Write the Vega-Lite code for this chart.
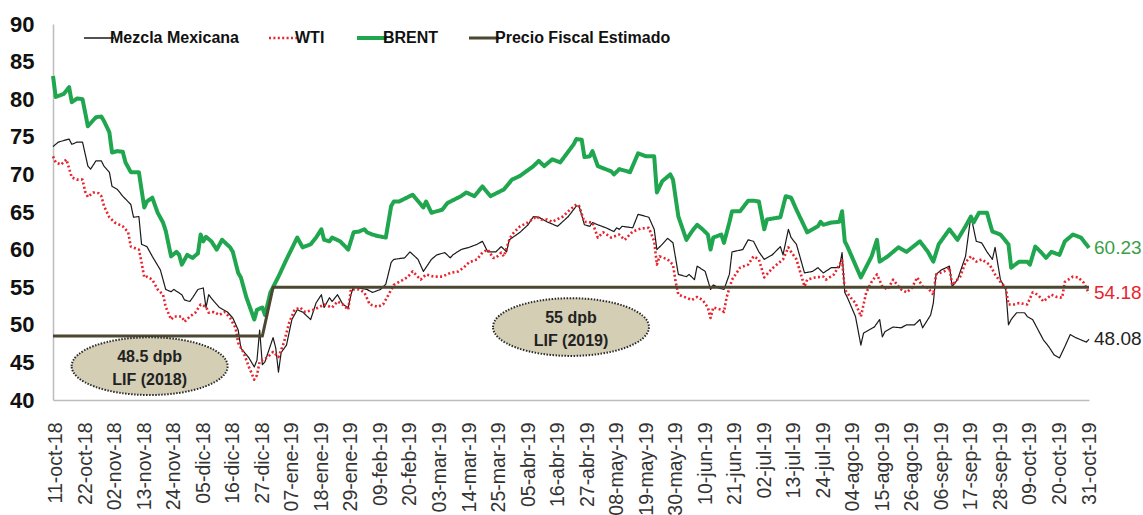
{
  "$schema": "https://vega.github.io/schema/vega-lite/v6.json",
  "width": 1036,
  "height": 376,
  "autosize": {"type": "none"},
  "padding": {"left": 53, "top": 24, "right": 54, "bottom": 115},
  "background": "white",
  "config": {
    "view": {"stroke": null},
    "font": "Liberation Sans",
    "axis": {"grid": false, "title": null, "labelOverlap": false, "labelSeparation": 0}
  },
  "layer": [
    {
      "data": {
        "format": {"parse": {"d": "date:'%Y-%m-%d'"}},
        "values": [
          {"s":"Mezcla Mexicana","d":"2018-10-10","v":73.7},{"s":"Mezcla Mexicana","d":"2018-10-12","v":74.3},{"s":"Mezcla Mexicana","d":"2018-10-16","v":74.7},{"s":"Mezcla Mexicana","d":"2018-10-17","v":74.0},{"s":"Mezcla Mexicana","d":"2018-10-19","v":74.3},{"s":"Mezcla Mexicana","d":"2018-10-21","v":74.3},{"s":"Mezcla Mexicana","d":"2018-10-23","v":71.1},{"s":"Mezcla Mexicana","d":"2018-10-24","v":70.7},{"s":"Mezcla Mexicana","d":"2018-10-26","v":71.8},{"s":"Mezcla Mexicana","d":"2018-10-28","v":71.8},{"s":"Mezcla Mexicana","d":"2018-10-29","v":71.1},{"s":"Mezcla Mexicana","d":"2018-10-31","v":70.3},{"s":"Mezcla Mexicana","d":"2018-11-01","v":68.4},{"s":"Mezcla Mexicana","d":"2018-11-03","v":68.0},{"s":"Mezcla Mexicana","d":"2018-11-05","v":67.1},{"s":"Mezcla Mexicana","d":"2018-11-08","v":66.0},{"s":"Mezcla Mexicana","d":"2018-11-09","v":64.3},{"s":"Mezcla Mexicana","d":"2018-11-11","v":64.4},{"s":"Mezcla Mexicana","d":"2018-11-12","v":60.7},{"s":"Mezcla Mexicana","d":"2018-11-14","v":60.4},{"s":"Mezcla Mexicana","d":"2018-11-16","v":59.1},{"s":"Mezcla Mexicana","d":"2018-11-19","v":57.3},{"s":"Mezcla Mexicana","d":"2018-11-20","v":56.0},{"s":"Mezcla Mexicana","d":"2018-11-21","v":54.7},{"s":"Mezcla Mexicana","d":"2018-11-23","v":54.4},{"s":"Mezcla Mexicana","d":"2018-11-24","v":54.7},{"s":"Mezcla Mexicana","d":"2018-11-27","v":54.0},{"s":"Mezcla Mexicana","d":"2018-11-28","v":53.3},{"s":"Mezcla Mexicana","d":"2018-11-30","v":53.1},{"s":"Mezcla Mexicana","d":"2018-12-01","v":53.6},{"s":"Mezcla Mexicana","d":"2018-12-03","v":54.7},{"s":"Mezcla Mexicana","d":"2018-12-05","v":54.9},{"s":"Mezcla Mexicana","d":"2018-12-06","v":52.3},{"s":"Mezcla Mexicana","d":"2018-12-07","v":54.0},{"s":"Mezcla Mexicana","d":"2018-12-09","v":53.1},{"s":"Mezcla Mexicana","d":"2018-12-11","v":52.3},{"s":"Mezcla Mexicana","d":"2018-12-14","v":51.7},{"s":"Mezcla Mexicana","d":"2018-12-16","v":50.9},{"s":"Mezcla Mexicana","d":"2018-12-18","v":49.3},{"s":"Mezcla Mexicana","d":"2018-12-19","v":46.9},{"s":"Mezcla Mexicana","d":"2018-12-22","v":45.6},{"s":"Mezcla Mexicana","d":"2018-12-24","v":44.4},{"s":"Mezcla Mexicana","d":"2018-12-25","v":45.3},{"s":"Mezcla Mexicana","d":"2018-12-26","v":49.3},{"s":"Mezcla Mexicana","d":"2018-12-27","v":44.7},{"s":"Mezcla Mexicana","d":"2018-12-28","v":45.1},{"s":"Mezcla Mexicana","d":"2018-12-31","v":48.3},{"s":"Mezcla Mexicana","d":"2019-01-01","v":46.9},{"s":"Mezcla Mexicana","d":"2019-01-02","v":43.7},{"s":"Mezcla Mexicana","d":"2019-01-03","v":46.3},{"s":"Mezcla Mexicana","d":"2019-01-05","v":47.3},{"s":"Mezcla Mexicana","d":"2019-01-07","v":50.7},{"s":"Mezcla Mexicana","d":"2019-01-09","v":52.0},{"s":"Mezcla Mexicana","d":"2019-01-11","v":51.7},{"s":"Mezcla Mexicana","d":"2019-01-14","v":50.7},{"s":"Mezcla Mexicana","d":"2019-01-16","v":52.9},{"s":"Mezcla Mexicana","d":"2019-01-18","v":54.0},{"s":"Mezcla Mexicana","d":"2019-01-19","v":52.3},{"s":"Mezcla Mexicana","d":"2019-01-21","v":53.6},{"s":"Mezcla Mexicana","d":"2019-01-22","v":53.1},{"s":"Mezcla Mexicana","d":"2019-01-24","v":54.0},{"s":"Mezcla Mexicana","d":"2019-01-26","v":52.7},{"s":"Mezcla Mexicana","d":"2019-01-28","v":52.3},{"s":"Mezcla Mexicana","d":"2019-01-29","v":54.0},{"s":"Mezcla Mexicana","d":"2019-01-30","v":55.1},{"s":"Mezcla Mexicana","d":"2019-02-01","v":54.9},{"s":"Mezcla Mexicana","d":"2019-02-04","v":54.7},{"s":"Mezcla Mexicana","d":"2019-02-06","v":54.3},{"s":"Mezcla Mexicana","d":"2019-02-09","v":54.7},{"s":"Mezcla Mexicana","d":"2019-02-11","v":55.4},{"s":"Mezcla Mexicana","d":"2019-02-13","v":58.3},{"s":"Mezcla Mexicana","d":"2019-02-14","v":58.7},{"s":"Mezcla Mexicana","d":"2019-02-18","v":58.9},{"s":"Mezcla Mexicana","d":"2019-02-20","v":59.7},{"s":"Mezcla Mexicana","d":"2019-02-23","v":58.7},{"s":"Mezcla Mexicana","d":"2019-02-25","v":57.1},{"s":"Mezcla Mexicana","d":"2019-02-28","v":58.7},{"s":"Mezcla Mexicana","d":"2019-03-02","v":59.3},{"s":"Mezcla Mexicana","d":"2019-03-05","v":59.6},{"s":"Mezcla Mexicana","d":"2019-03-07","v":58.9},{"s":"Mezcla Mexicana","d":"2019-03-08","v":59.3},{"s":"Mezcla Mexicana","d":"2019-03-11","v":60.0},{"s":"Mezcla Mexicana","d":"2019-03-14","v":60.3},{"s":"Mezcla Mexicana","d":"2019-03-17","v":60.7},{"s":"Mezcla Mexicana","d":"2019-03-19","v":61.1},{"s":"Mezcla Mexicana","d":"2019-03-21","v":59.7},{"s":"Mezcla Mexicana","d":"2019-03-24","v":59.7},{"s":"Mezcla Mexicana","d":"2019-03-26","v":60.4},{"s":"Mezcla Mexicana","d":"2019-03-28","v":59.7},{"s":"Mezcla Mexicana","d":"2019-03-29","v":61.3},{"s":"Mezcla Mexicana","d":"2019-04-02","v":62.3},{"s":"Mezcla Mexicana","d":"2019-04-05","v":63.3},{"s":"Mezcla Mexicana","d":"2019-04-07","v":64.4},{"s":"Mezcla Mexicana","d":"2019-04-09","v":64.3},{"s":"Mezcla Mexicana","d":"2019-04-12","v":63.7},{"s":"Mezcla Mexicana","d":"2019-04-16","v":63.1},{"s":"Mezcla Mexicana","d":"2019-04-20","v":64.4},{"s":"Mezcla Mexicana","d":"2019-04-23","v":65.8},{"s":"Mezcla Mexicana","d":"2019-04-24","v":65.8},{"s":"Mezcla Mexicana","d":"2019-04-26","v":63.3},{"s":"Mezcla Mexicana","d":"2019-04-28","v":63.1},{"s":"Mezcla Mexicana","d":"2019-04-29","v":63.6},{"s":"Mezcla Mexicana","d":"2019-05-01","v":63.3},{"s":"Mezcla Mexicana","d":"2019-05-04","v":62.9},{"s":"Mezcla Mexicana","d":"2019-05-07","v":62.4},{"s":"Mezcla Mexicana","d":"2019-05-08","v":62.9},{"s":"Mezcla Mexicana","d":"2019-05-09","v":62.7},{"s":"Mezcla Mexicana","d":"2019-05-10","v":63.1},{"s":"Mezcla Mexicana","d":"2019-05-14","v":62.9},{"s":"Mezcla Mexicana","d":"2019-05-16","v":64.7},{"s":"Mezcla Mexicana","d":"2019-05-20","v":64.3},{"s":"Mezcla Mexicana","d":"2019-05-22","v":62.7},{"s":"Mezcla Mexicana","d":"2019-05-23","v":60.0},{"s":"Mezcla Mexicana","d":"2019-05-25","v":60.7},{"s":"Mezcla Mexicana","d":"2019-05-27","v":61.5},{"s":"Mezcla Mexicana","d":"2019-05-29","v":60.9},{"s":"Mezcla Mexicana","d":"2019-05-31","v":56.7},{"s":"Mezcla Mexicana","d":"2019-06-03","v":56.4},{"s":"Mezcla Mexicana","d":"2019-06-04","v":56.7},{"s":"Mezcla Mexicana","d":"2019-06-06","v":56.0},{"s":"Mezcla Mexicana","d":"2019-06-07","v":57.8},{"s":"Mezcla Mexicana","d":"2019-06-10","v":57.1},{"s":"Mezcla Mexicana","d":"2019-06-12","v":54.7},{"s":"Mezcla Mexicana","d":"2019-06-13","v":55.3},{"s":"Mezcla Mexicana","d":"2019-06-15","v":54.9},{"s":"Mezcla Mexicana","d":"2019-06-17","v":54.7},{"s":"Mezcla Mexicana","d":"2019-06-19","v":56.7},{"s":"Mezcla Mexicana","d":"2019-06-20","v":59.7},{"s":"Mezcla Mexicana","d":"2019-06-24","v":60.0},{"s":"Mezcla Mexicana","d":"2019-06-26","v":61.3},{"s":"Mezcla Mexicana","d":"2019-06-28","v":61.1},{"s":"Mezcla Mexicana","d":"2019-06-30","v":59.7},{"s":"Mezcla Mexicana","d":"2019-07-02","v":58.7},{"s":"Mezcla Mexicana","d":"2019-07-05","v":59.3},{"s":"Mezcla Mexicana","d":"2019-07-08","v":60.4},{"s":"Mezcla Mexicana","d":"2019-07-09","v":59.3},{"s":"Mezcla Mexicana","d":"2019-07-11","v":62.7},{"s":"Mezcla Mexicana","d":"2019-07-12","v":61.6},{"s":"Mezcla Mexicana","d":"2019-07-14","v":60.7},{"s":"Mezcla Mexicana","d":"2019-07-17","v":56.9},{"s":"Mezcla Mexicana","d":"2019-07-20","v":57.1},{"s":"Mezcla Mexicana","d":"2019-07-22","v":57.6},{"s":"Mezcla Mexicana","d":"2019-07-24","v":56.9},{"s":"Mezcla Mexicana","d":"2019-07-27","v":57.6},{"s":"Mezcla Mexicana","d":"2019-07-30","v":57.6},{"s":"Mezcla Mexicana","d":"2019-07-31","v":59.6},{"s":"Mezcla Mexicana","d":"2019-08-01","v":54.3},{"s":"Mezcla Mexicana","d":"2019-08-02","v":53.6},{"s":"Mezcla Mexicana","d":"2019-08-05","v":51.1},{"s":"Mezcla Mexicana","d":"2019-08-07","v":47.3},{"s":"Mezcla Mexicana","d":"2019-08-08","v":48.9},{"s":"Mezcla Mexicana","d":"2019-08-12","v":49.7},{"s":"Mezcla Mexicana","d":"2019-08-14","v":50.7},{"s":"Mezcla Mexicana","d":"2019-08-15","v":48.4},{"s":"Mezcla Mexicana","d":"2019-08-16","v":49.1},{"s":"Mezcla Mexicana","d":"2019-08-19","v":49.7},{"s":"Mezcla Mexicana","d":"2019-08-22","v":49.6},{"s":"Mezcla Mexicana","d":"2019-08-24","v":50.0},{"s":"Mezcla Mexicana","d":"2019-08-27","v":50.0},{"s":"Mezcla Mexicana","d":"2019-08-29","v":50.7},{"s":"Mezcla Mexicana","d":"2019-08-30","v":49.6},{"s":"Mezcla Mexicana","d":"2019-09-02","v":51.3},{"s":"Mezcla Mexicana","d":"2019-09-03","v":52.9},{"s":"Mezcla Mexicana","d":"2019-09-04","v":56.7},{"s":"Mezcla Mexicana","d":"2019-09-06","v":57.3},{"s":"Mezcla Mexicana","d":"2019-09-09","v":57.8},{"s":"Mezcla Mexicana","d":"2019-09-10","v":55.1},{"s":"Mezcla Mexicana","d":"2019-09-12","v":56.0},{"s":"Mezcla Mexicana","d":"2019-09-15","v":59.1},{"s":"Mezcla Mexicana","d":"2019-09-16","v":61.8},{"s":"Mezcla Mexicana","d":"2019-09-17","v":64.5},{"s":"Mezcla Mexicana","d":"2019-09-19","v":61.1},{"s":"Mezcla Mexicana","d":"2019-09-21","v":60.9},{"s":"Mezcla Mexicana","d":"2019-09-23","v":59.7},{"s":"Mezcla Mexicana","d":"2019-09-25","v":58.7},{"s":"Mezcla Mexicana","d":"2019-09-26","v":60.3},{"s":"Mezcla Mexicana","d":"2019-09-28","v":56.0},{"s":"Mezcla Mexicana","d":"2019-09-30","v":54.7},{"s":"Mezcla Mexicana","d":"2019-10-01","v":50.0},{"s":"Mezcla Mexicana","d":"2019-10-02","v":50.7},{"s":"Mezcla Mexicana","d":"2019-10-04","v":51.6},{"s":"Mezcla Mexicana","d":"2019-10-07","v":51.6},{"s":"Mezcla Mexicana","d":"2019-10-08","v":51.1},{"s":"Mezcla Mexicana","d":"2019-10-10","v":50.7},{"s":"Mezcla Mexicana","d":"2019-10-14","v":48.0},{"s":"Mezcla Mexicana","d":"2019-10-16","v":47.1},{"s":"Mezcla Mexicana","d":"2019-10-18","v":46.0},{"s":"Mezcla Mexicana","d":"2019-10-20","v":45.6},{"s":"Mezcla Mexicana","d":"2019-10-22","v":47.1},{"s":"Mezcla Mexicana","d":"2019-10-24","v":48.7},{"s":"Mezcla Mexicana","d":"2019-10-26","v":48.3},{"s":"Mezcla Mexicana","d":"2019-10-28","v":48.0},{"s":"Mezcla Mexicana","d":"2019-10-30","v":47.7},{"s":"Mezcla Mexicana","d":"2019-10-31","v":48.08},
          {"s":"WTI","d":"2018-10-10","v":72.4},{"s":"WTI","d":"2018-10-11","v":71.6},{"s":"WTI","d":"2018-10-13","v":71.3},{"s":"WTI","d":"2018-10-15","v":72.0},{"s":"WTI","d":"2018-10-17","v":69.6},{"s":"WTI","d":"2018-10-19","v":69.3},{"s":"WTI","d":"2018-10-21","v":69.3},{"s":"WTI","d":"2018-10-22","v":67.7},{"s":"WTI","d":"2018-10-23","v":67.0},{"s":"WTI","d":"2018-10-25","v":67.6},{"s":"WTI","d":"2018-10-27","v":67.5},{"s":"WTI","d":"2018-10-28","v":67.1},{"s":"WTI","d":"2018-10-29","v":65.8},{"s":"WTI","d":"2018-10-31","v":64.3},{"s":"WTI","d":"2018-11-02","v":63.6},{"s":"WTI","d":"2018-11-05","v":63.1},{"s":"WTI","d":"2018-11-07","v":62.3},{"s":"WTI","d":"2018-11-08","v":60.4},{"s":"WTI","d":"2018-11-11","v":60.0},{"s":"WTI","d":"2018-11-12","v":58.3},{"s":"WTI","d":"2018-11-13","v":56.3},{"s":"WTI","d":"2018-11-14","v":56.4},{"s":"WTI","d":"2018-11-16","v":56.0},{"s":"WTI","d":"2018-11-18","v":54.7},{"s":"WTI","d":"2018-11-20","v":54.0},{"s":"WTI","d":"2018-11-21","v":52.4},{"s":"WTI","d":"2018-11-23","v":50.7},{"s":"WTI","d":"2018-11-24","v":51.1},{"s":"WTI","d":"2018-11-27","v":51.1},{"s":"WTI","d":"2018-11-28","v":50.4},{"s":"WTI","d":"2018-11-30","v":51.1},{"s":"WTI","d":"2018-12-02","v":51.6},{"s":"WTI","d":"2018-12-04","v":52.7},{"s":"WTI","d":"2018-12-06","v":52.4},{"s":"WTI","d":"2018-12-07","v":51.6},{"s":"WTI","d":"2018-12-09","v":51.7},{"s":"WTI","d":"2018-12-11","v":51.3},{"s":"WTI","d":"2018-12-13","v":51.7},{"s":"WTI","d":"2018-12-15","v":50.9},{"s":"WTI","d":"2018-12-17","v":49.6},{"s":"WTI","d":"2018-12-18","v":47.6},{"s":"WTI","d":"2018-12-20","v":46.3},{"s":"WTI","d":"2018-12-22","v":44.4},{"s":"WTI","d":"2018-12-24","v":42.7},{"s":"WTI","d":"2018-12-25","v":43.3},{"s":"WTI","d":"2018-12-26","v":45.1},{"s":"WTI","d":"2018-12-29","v":45.7},{"s":"WTI","d":"2018-12-31","v":46.4},{"s":"WTI","d":"2019-01-02","v":45.7},{"s":"WTI","d":"2019-01-04","v":47.6},{"s":"WTI","d":"2019-01-06","v":50.3},{"s":"WTI","d":"2019-01-08","v":52.0},{"s":"WTI","d":"2019-01-10","v":52.3},{"s":"WTI","d":"2019-01-12","v":51.7},{"s":"WTI","d":"2019-01-15","v":52.0},{"s":"WTI","d":"2019-01-17","v":52.3},{"s":"WTI","d":"2019-01-19","v":52.7},{"s":"WTI","d":"2019-01-22","v":52.3},{"s":"WTI","d":"2019-01-24","v":53.1},{"s":"WTI","d":"2019-01-26","v":52.7},{"s":"WTI","d":"2019-01-28","v":52.0},{"s":"WTI","d":"2019-01-29","v":54.7},{"s":"WTI","d":"2019-02-01","v":54.7},{"s":"WTI","d":"2019-02-03","v":54.3},{"s":"WTI","d":"2019-02-05","v":52.7},{"s":"WTI","d":"2019-02-08","v":52.4},{"s":"WTI","d":"2019-02-10","v":52.7},{"s":"WTI","d":"2019-02-12","v":54.0},{"s":"WTI","d":"2019-02-14","v":55.3},{"s":"WTI","d":"2019-02-16","v":55.7},{"s":"WTI","d":"2019-02-19","v":56.3},{"s":"WTI","d":"2019-02-21","v":57.1},{"s":"WTI","d":"2019-02-24","v":56.0},{"s":"WTI","d":"2019-02-26","v":56.7},{"s":"WTI","d":"2019-03-01","v":56.4},{"s":"WTI","d":"2019-03-04","v":56.4},{"s":"WTI","d":"2019-03-07","v":56.9},{"s":"WTI","d":"2019-03-10","v":57.1},{"s":"WTI","d":"2019-03-12","v":57.6},{"s":"WTI","d":"2019-03-14","v":58.3},{"s":"WTI","d":"2019-03-17","v":58.7},{"s":"WTI","d":"2019-03-19","v":59.6},{"s":"WTI","d":"2019-03-21","v":60.0},{"s":"WTI","d":"2019-03-23","v":58.9},{"s":"WTI","d":"2019-03-24","v":58.9},{"s":"WTI","d":"2019-03-26","v":59.6},{"s":"WTI","d":"2019-03-27","v":59.1},{"s":"WTI","d":"2019-03-29","v":61.3},{"s":"WTI","d":"2019-03-30","v":62.0},{"s":"WTI","d":"2019-04-02","v":63.1},{"s":"WTI","d":"2019-04-05","v":63.6},{"s":"WTI","d":"2019-04-08","v":64.4},{"s":"WTI","d":"2019-04-10","v":64.0},{"s":"WTI","d":"2019-04-12","v":64.0},{"s":"WTI","d":"2019-04-14","v":63.7},{"s":"WTI","d":"2019-04-18","v":64.4},{"s":"WTI","d":"2019-04-20","v":65.1},{"s":"WTI","d":"2019-04-23","v":66.0},{"s":"WTI","d":"2019-04-24","v":65.8},{"s":"WTI","d":"2019-04-26","v":63.7},{"s":"WTI","d":"2019-04-29","v":63.6},{"s":"WTI","d":"2019-05-01","v":61.6},{"s":"WTI","d":"2019-05-03","v":62.3},{"s":"WTI","d":"2019-05-06","v":61.6},{"s":"WTI","d":"2019-05-09","v":62.0},{"s":"WTI","d":"2019-05-11","v":61.3},{"s":"WTI","d":"2019-05-14","v":62.4},{"s":"WTI","d":"2019-05-17","v":62.8},{"s":"WTI","d":"2019-05-20","v":62.9},{"s":"WTI","d":"2019-05-22","v":61.1},{"s":"WTI","d":"2019-05-23","v":58.0},{"s":"WTI","d":"2019-05-24","v":59.1},{"s":"WTI","d":"2019-05-27","v":58.7},{"s":"WTI","d":"2019-05-29","v":58.0},{"s":"WTI","d":"2019-05-30","v":55.7},{"s":"WTI","d":"2019-05-31","v":54.0},{"s":"WTI","d":"2019-06-03","v":53.6},{"s":"WTI","d":"2019-06-05","v":53.3},{"s":"WTI","d":"2019-06-07","v":53.7},{"s":"WTI","d":"2019-06-09","v":53.3},{"s":"WTI","d":"2019-06-11","v":52.3},{"s":"WTI","d":"2019-06-12","v":50.9},{"s":"WTI","d":"2019-06-13","v":52.3},{"s":"WTI","d":"2019-06-16","v":52.0},{"s":"WTI","d":"2019-06-17","v":51.7},{"s":"WTI","d":"2019-06-18","v":53.7},{"s":"WTI","d":"2019-06-20","v":56.0},{"s":"WTI","d":"2019-06-23","v":57.6},{"s":"WTI","d":"2019-06-26","v":58.0},{"s":"WTI","d":"2019-06-28","v":59.1},{"s":"WTI","d":"2019-06-30","v":58.7},{"s":"WTI","d":"2019-07-02","v":56.3},{"s":"WTI","d":"2019-07-05","v":57.5},{"s":"WTI","d":"2019-07-09","v":58.7},{"s":"WTI","d":"2019-07-11","v":60.3},{"s":"WTI","d":"2019-07-12","v":59.7},{"s":"WTI","d":"2019-07-14","v":58.7},{"s":"WTI","d":"2019-07-17","v":55.1},{"s":"WTI","d":"2019-07-18","v":56.0},{"s":"WTI","d":"2019-07-21","v":56.3},{"s":"WTI","d":"2019-07-24","v":56.4},{"s":"WTI","d":"2019-07-25","v":56.0},{"s":"WTI","d":"2019-07-28","v":56.7},{"s":"WTI","d":"2019-07-31","v":58.6},{"s":"WTI","d":"2019-08-01","v":54.7},{"s":"WTI","d":"2019-08-03","v":53.7},{"s":"WTI","d":"2019-08-05","v":52.9},{"s":"WTI","d":"2019-08-07","v":51.1},{"s":"WTI","d":"2019-08-09","v":54.3},{"s":"WTI","d":"2019-08-11","v":55.7},{"s":"WTI","d":"2019-08-13","v":56.7},{"s":"WTI","d":"2019-08-15","v":55.1},{"s":"WTI","d":"2019-08-17","v":54.7},{"s":"WTI","d":"2019-08-19","v":56.0},{"s":"WTI","d":"2019-08-22","v":54.7},{"s":"WTI","d":"2019-08-24","v":54.3},{"s":"WTI","d":"2019-08-26","v":54.9},{"s":"WTI","d":"2019-08-28","v":56.3},{"s":"WTI","d":"2019-08-30","v":55.1},{"s":"WTI","d":"2019-09-01","v":54.9},{"s":"WTI","d":"2019-09-03","v":54.0},{"s":"WTI","d":"2019-09-04","v":56.7},{"s":"WTI","d":"2019-09-07","v":57.1},{"s":"WTI","d":"2019-09-09","v":57.6},{"s":"WTI","d":"2019-09-10","v":55.3},{"s":"WTI","d":"2019-09-13","v":56.4},{"s":"WTI","d":"2019-09-15","v":58.3},{"s":"WTI","d":"2019-09-17","v":59.1},{"s":"WTI","d":"2019-09-19","v":58.4},{"s":"WTI","d":"2019-09-21","v":58.7},{"s":"WTI","d":"2019-09-24","v":58.0},{"s":"WTI","d":"2019-09-26","v":56.7},{"s":"WTI","d":"2019-09-28","v":55.7},{"s":"WTI","d":"2019-09-30","v":54.9},{"s":"WTI","d":"2019-10-01","v":52.7},{"s":"WTI","d":"2019-10-03","v":52.7},{"s":"WTI","d":"2019-10-05","v":52.9},{"s":"WTI","d":"2019-10-08","v":52.7},{"s":"WTI","d":"2019-10-10","v":54.3},{"s":"WTI","d":"2019-10-12","v":54.0},{"s":"WTI","d":"2019-10-14","v":53.1},{"s":"WTI","d":"2019-10-17","v":54.0},{"s":"WTI","d":"2019-10-19","v":53.7},{"s":"WTI","d":"2019-10-21","v":53.6},{"s":"WTI","d":"2019-10-22","v":55.7},{"s":"WTI","d":"2019-10-25","v":56.4},{"s":"WTI","d":"2019-10-27","v":56.3},{"s":"WTI","d":"2019-10-29","v":55.6},{"s":"WTI","d":"2019-10-31","v":54.18},
          {"s":"BRENT","d":"2018-10-10","v":83.1},{"s":"BRENT","d":"2018-10-11","v":80.3},{"s":"BRENT","d":"2018-10-14","v":80.7},{"s":"BRENT","d":"2018-10-16","v":81.6},{"s":"BRENT","d":"2018-10-17","v":79.6},{"s":"BRENT","d":"2018-10-19","v":80.1},{"s":"BRENT","d":"2018-10-21","v":80.0},{"s":"BRENT","d":"2018-10-23","v":76.4},{"s":"BRENT","d":"2018-10-26","v":77.6},{"s":"BRENT","d":"2018-10-28","v":77.7},{"s":"BRENT","d":"2018-10-29","v":77.1},{"s":"BRENT","d":"2018-10-31","v":75.6},{"s":"BRENT","d":"2018-11-01","v":72.9},{"s":"BRENT","d":"2018-11-03","v":73.1},{"s":"BRENT","d":"2018-11-05","v":73.0},{"s":"BRENT","d":"2018-11-06","v":71.6},{"s":"BRENT","d":"2018-11-08","v":70.3},{"s":"BRENT","d":"2018-11-11","v":70.3},{"s":"BRENT","d":"2018-11-13","v":65.6},{"s":"BRENT","d":"2018-11-14","v":66.4},{"s":"BRENT","d":"2018-11-16","v":66.9},{"s":"BRENT","d":"2018-11-18","v":64.9},{"s":"BRENT","d":"2018-11-20","v":63.6},{"s":"BRENT","d":"2018-11-21","v":62.5},{"s":"BRENT","d":"2018-11-23","v":59.1},{"s":"BRENT","d":"2018-11-25","v":59.7},{"s":"BRENT","d":"2018-11-26","v":59.3},{"s":"BRENT","d":"2018-11-27","v":58.0},{"s":"BRENT","d":"2018-11-29","v":59.3},{"s":"BRENT","d":"2018-12-01","v":58.9},{"s":"BRENT","d":"2018-12-03","v":59.5},{"s":"BRENT","d":"2018-12-04","v":62.0},{"s":"BRENT","d":"2018-12-05","v":61.1},{"s":"BRENT","d":"2018-12-06","v":61.7},{"s":"BRENT","d":"2018-12-08","v":61.1},{"s":"BRENT","d":"2018-12-10","v":60.0},{"s":"BRENT","d":"2018-12-12","v":61.3},{"s":"BRENT","d":"2018-12-15","v":60.3},{"s":"BRENT","d":"2018-12-16","v":59.7},{"s":"BRENT","d":"2018-12-18","v":56.9},{"s":"BRENT","d":"2018-12-19","v":56.3},{"s":"BRENT","d":"2018-12-21","v":53.7},{"s":"BRENT","d":"2018-12-24","v":50.7},{"s":"BRENT","d":"2018-12-25","v":52.0},{"s":"BRENT","d":"2018-12-27","v":52.3},{"s":"BRENT","d":"2018-12-28","v":51.3},{"s":"BRENT","d":"2018-12-30","v":54.3},{"s":"BRENT","d":"2019-01-02","v":56.4},{"s":"BRENT","d":"2019-01-05","v":58.7},{"s":"BRENT","d":"2019-01-09","v":61.6},{"s":"BRENT","d":"2019-01-11","v":60.3},{"s":"BRENT","d":"2019-01-14","v":60.7},{"s":"BRENT","d":"2019-01-16","v":61.6},{"s":"BRENT","d":"2019-01-18","v":62.7},{"s":"BRENT","d":"2019-01-19","v":61.3},{"s":"BRENT","d":"2019-01-21","v":61.1},{"s":"BRENT","d":"2019-01-22","v":61.6},{"s":"BRENT","d":"2019-01-25","v":61.1},{"s":"BRENT","d":"2019-01-28","v":60.0},{"s":"BRENT","d":"2019-01-30","v":62.3},{"s":"BRENT","d":"2019-02-01","v":62.4},{"s":"BRENT","d":"2019-02-03","v":62.7},{"s":"BRENT","d":"2019-02-04","v":62.3},{"s":"BRENT","d":"2019-02-06","v":62.0},{"s":"BRENT","d":"2019-02-08","v":61.8},{"s":"BRENT","d":"2019-02-11","v":61.6},{"s":"BRENT","d":"2019-02-13","v":65.8},{"s":"BRENT","d":"2019-02-14","v":66.4},{"s":"BRENT","d":"2019-02-16","v":66.4},{"s":"BRENT","d":"2019-02-21","v":67.3},{"s":"BRENT","d":"2019-02-25","v":65.6},{"s":"BRENT","d":"2019-02-26","v":66.4},{"s":"BRENT","d":"2019-02-28","v":64.9},{"s":"BRENT","d":"2019-03-04","v":65.3},{"s":"BRENT","d":"2019-03-06","v":66.2},{"s":"BRENT","d":"2019-03-11","v":67.1},{"s":"BRENT","d":"2019-03-13","v":67.6},{"s":"BRENT","d":"2019-03-16","v":67.1},{"s":"BRENT","d":"2019-03-19","v":68.4},{"s":"BRENT","d":"2019-03-22","v":67.1},{"s":"BRENT","d":"2019-03-27","v":68.0},{"s":"BRENT","d":"2019-03-30","v":69.3},{"s":"BRENT","d":"2019-04-02","v":69.8},{"s":"BRENT","d":"2019-04-07","v":71.1},{"s":"BRENT","d":"2019-04-09","v":71.8},{"s":"BRENT","d":"2019-04-11","v":71.1},{"s":"BRENT","d":"2019-04-14","v":72.0},{"s":"BRENT","d":"2019-04-17","v":71.6},{"s":"BRENT","d":"2019-04-22","v":74.0},{"s":"BRENT","d":"2019-04-23","v":74.7},{"s":"BRENT","d":"2019-04-25","v":74.6},{"s":"BRENT","d":"2019-04-26","v":72.3},{"s":"BRENT","d":"2019-04-28","v":72.4},{"s":"BRENT","d":"2019-04-29","v":73.1},{"s":"BRENT","d":"2019-05-01","v":71.1},{"s":"BRENT","d":"2019-05-06","v":70.4},{"s":"BRENT","d":"2019-05-07","v":70.0},{"s":"BRENT","d":"2019-05-09","v":70.7},{"s":"BRENT","d":"2019-05-13","v":70.3},{"s":"BRENT","d":"2019-05-16","v":72.8},{"s":"BRENT","d":"2019-05-19","v":72.4},{"s":"BRENT","d":"2019-05-22","v":72.4},{"s":"BRENT","d":"2019-05-23","v":67.6},{"s":"BRENT","d":"2019-05-25","v":69.1},{"s":"BRENT","d":"2019-05-28","v":70.0},{"s":"BRENT","d":"2019-05-29","v":69.3},{"s":"BRENT","d":"2019-05-31","v":64.4},{"s":"BRENT","d":"2019-06-03","v":61.3},{"s":"BRENT","d":"2019-06-05","v":62.4},{"s":"BRENT","d":"2019-06-07","v":63.3},{"s":"BRENT","d":"2019-06-09","v":62.7},{"s":"BRENT","d":"2019-06-11","v":62.0},{"s":"BRENT","d":"2019-06-12","v":60.0},{"s":"BRENT","d":"2019-06-13","v":61.6},{"s":"BRENT","d":"2019-06-16","v":62.0},{"s":"BRENT","d":"2019-06-17","v":60.9},{"s":"BRENT","d":"2019-06-19","v":63.6},{"s":"BRENT","d":"2019-06-20","v":65.1},{"s":"BRENT","d":"2019-06-23","v":65.1},{"s":"BRENT","d":"2019-06-26","v":66.5},{"s":"BRENT","d":"2019-06-28","v":66.5},{"s":"BRENT","d":"2019-06-30","v":66.4},{"s":"BRENT","d":"2019-07-02","v":62.7},{"s":"BRENT","d":"2019-07-03","v":64.0},{"s":"BRENT","d":"2019-07-08","v":64.3},{"s":"BRENT","d":"2019-07-10","v":67.1},{"s":"BRENT","d":"2019-07-12","v":66.9},{"s":"BRENT","d":"2019-07-14","v":65.3},{"s":"BRENT","d":"2019-07-18","v":62.3},{"s":"BRENT","d":"2019-07-22","v":63.1},{"s":"BRENT","d":"2019-07-23","v":63.7},{"s":"BRENT","d":"2019-07-24","v":63.3},{"s":"BRENT","d":"2019-07-27","v":63.6},{"s":"BRENT","d":"2019-07-30","v":63.7},{"s":"BRENT","d":"2019-07-31","v":65.1},{"s":"BRENT","d":"2019-08-01","v":61.1},{"s":"BRENT","d":"2019-08-02","v":60.4},{"s":"BRENT","d":"2019-08-07","v":56.3},{"s":"BRENT","d":"2019-08-11","v":59.1},{"s":"BRENT","d":"2019-08-13","v":61.3},{"s":"BRENT","d":"2019-08-14","v":58.4},{"s":"BRENT","d":"2019-08-17","v":59.1},{"s":"BRENT","d":"2019-08-21","v":60.3},{"s":"BRENT","d":"2019-08-24","v":59.7},{"s":"BRENT","d":"2019-08-29","v":61.1},{"s":"BRENT","d":"2019-09-01","v":59.7},{"s":"BRENT","d":"2019-09-03","v":58.4},{"s":"BRENT","d":"2019-09-05","v":60.7},{"s":"BRENT","d":"2019-09-09","v":62.7},{"s":"BRENT","d":"2019-09-12","v":61.3},{"s":"BRENT","d":"2019-09-15","v":63.1},{"s":"BRENT","d":"2019-09-17","v":64.4},{"s":"BRENT","d":"2019-09-18","v":63.6},{"s":"BRENT","d":"2019-09-20","v":64.9},{"s":"BRENT","d":"2019-09-23","v":64.9},{"s":"BRENT","d":"2019-09-24","v":63.6},{"s":"BRENT","d":"2019-09-25","v":62.4},{"s":"BRENT","d":"2019-09-28","v":62.0},{"s":"BRENT","d":"2019-10-01","v":60.7},{"s":"BRENT","d":"2019-10-02","v":57.6},{"s":"BRENT","d":"2019-10-05","v":58.4},{"s":"BRENT","d":"2019-10-08","v":58.4},{"s":"BRENT","d":"2019-10-09","v":58.0},{"s":"BRENT","d":"2019-10-11","v":60.4},{"s":"BRENT","d":"2019-10-13","v":59.7},{"s":"BRENT","d":"2019-10-15","v":58.9},{"s":"BRENT","d":"2019-10-17","v":59.7},{"s":"BRENT","d":"2019-10-20","v":59.3},{"s":"BRENT","d":"2019-10-22","v":61.1},{"s":"BRENT","d":"2019-10-25","v":62.0},{"s":"BRENT","d":"2019-10-28","v":61.6},{"s":"BRENT","d":"2019-10-31","v":60.23},
          {"s":"Precio Fiscal Estimado","d":"2018-10-10","v":48.5},{"s":"Precio Fiscal Estimado","d":"2018-12-27","v":48.5},{"s":"Precio Fiscal Estimado","d":"2018-12-31","v":55},{"s":"Precio Fiscal Estimado","d":"2019-10-31","v":55}
        ]
      },
      "mark": {"type": "line", "strokeJoin": "round"},
      "encoding": {
        "x": {
          "field": "d", "type": "temporal",
          "scale": {"domain": [{"year": 2018, "month": "oct", "date": 10}, {"year": 2019, "month": "oct", "date": 31}]},
          "axis": {
            "values": [
              {"year":2018,"month":"oct","date":11},{"year":2018,"month":"oct","date":22},{"year":2018,"month":"nov","date":2},{"year":2018,"month":"nov","date":13},{"year":2018,"month":"nov","date":24},{"year":2018,"month":"dec","date":5},{"year":2018,"month":"dec","date":16},{"year":2018,"month":"dec","date":27},
              {"year":2019,"month":"jan","date":7},{"year":2019,"month":"jan","date":18},{"year":2019,"month":"jan","date":29},{"year":2019,"month":"feb","date":9},{"year":2019,"month":"feb","date":20},{"year":2019,"month":"mar","date":3},{"year":2019,"month":"mar","date":14},{"year":2019,"month":"mar","date":25},{"year":2019,"month":"apr","date":5},{"year":2019,"month":"apr","date":16},{"year":2019,"month":"apr","date":27},{"year":2019,"month":"may","date":8},{"year":2019,"month":"may","date":19},{"year":2019,"month":"may","date":30},{"year":2019,"month":"jun","date":10},{"year":2019,"month":"jun","date":21},{"year":2019,"month":"jul","date":2},{"year":2019,"month":"jul","date":13},{"year":2019,"month":"jul","date":24},{"year":2019,"month":"aug","date":4},{"year":2019,"month":"aug","date":15},{"year":2019,"month":"aug","date":26},{"year":2019,"month":"sep","date":6},{"year":2019,"month":"sep","date":17},{"year":2019,"month":"sep","date":28},{"year":2019,"month":"oct","date":9},{"year":2019,"month":"oct","date":20},{"year":2019,"month":"oct","date":31}
            ],
            "tickCount": 100,
            "labelExpr": "timeFormat(datum.value, '%d') + '-' + ['ene','feb','mar','abr','may','jun','jul','ago','sep','oct','nov','dic'][month(datum.value)] + '-' + timeFormat(datum.value, '%y')",
            "labelAngle": -90,
            "labelFontSize": 19.5,
            "labelColor": "#333333",
            "labelPadding": 22,
            "labelOverlap": false,
            "labelFlush": false,
            "ticks": false,
            "tickSize": 0,
            "domainColor": "#bdbdbd",
            "domainWidth": 1.5
          }
        },
        "y": {
          "field": "v", "type": "quantitative",
          "scale": {"domain": [40, 90], "nice": false, "zero": false},
          "axis": {
            "values": [40, 45, 50, 55, 60, 65, 70, 75, 80, 85, 90],
            "tickCount": 50,
            "labelFontSize": 22,
            "labelFontWeight": "bold",
            "labelColor": "#111111",
            "labelPadding": 19,
            "labelOverlap": false,
            "ticks": false,
            "tickSize": 0,
            "domainColor": "#bdbdbd",
            "domainWidth": 1.5
          }
        },
        "color": {
          "field": "s", "type": "nominal",
          "scale": {
            "domain": ["Mezcla Mexicana", "WTI", "BRENT", "Precio Fiscal Estimado"],
            "range": ["#1a1a1a", "#e8232c", "#1fa64f", "#4b4730"]
          },
          "legend": {
            "title": null,
            "orient": "none",
            "legendX": 38,
            "legendY": 6,
            "direction": "horizontal",
            "symbolType": "stroke",
            "symbolSize": 900,
            "labelFont": "Liberation Sans",
            "labelFontSize": 16,
            "labelFontWeight": "bold",
            "labelColor": "#111111",
            "labelLimit": 300,
            "labelOffset": 3,
            "columnPadding": 24,
            "encode": {
              "symbols": {
                "update": {
                  "size": {"value": 900},
                  "strokeWidth": {"signal": "datum.value === 'BRENT' ? 4 : datum.value === 'Precio Fiscal Estimado' ? 3 : datum.value === 'WTI' ? 2.6 : 1.3"},
                  "strokeDash": {"signal": "datum.value === 'WTI' ? [2, 2.4] : [1, 0]"}
                }
              }
            }
          }
        },
        "strokeWidth": {
          "condition": [
            {"test": "datum.s === 'BRENT'", "value": 4},
            {"test": "datum.s === 'Precio Fiscal Estimado'", "value": 3},
            {"test": "datum.s === 'WTI'", "value": 2.6}
          ],
          "value": 1.2
        },
        "strokeDash": {
          "condition": {"test": "datum.s === 'WTI'", "value": [2, 2.4]},
          "value": [1, 0]
        }
      }
    },
    {
      "data": {
        "format": {"parse": {"d": "date:'%Y-%m-%d'"}},
        "values": [
          {"d": "2018-11-15", "v": 44.5, "t": "48.5 dpb\nLIF (2018)"},
          {"d": "2019-04-21", "v": 49.7, "t": "55 dpb\nLIF (2019)"}
        ]
      },
      "encoding": {
        "x": {"field": "d", "type": "temporal"},
        "y": {"field": "v", "type": "quantitative"}
      },
      "layer": [
        {
          "mark": {
            "type": "point",
            "shape": "M-1,0 C-1,-0.2043 -0.5523,-0.37 0,-0.37 C0.5523,-0.37 1,-0.2043 1,0 C1,0.2043 0.5523,0.37 0,0.37 C-0.5523,0.37 -1,0.2043 -1,0 Z",
            "size": 24336,
            "filled": true,
            "fill": "#d4ceb5",
            "stroke": "#2a2a2a",
            "strokeWidth": 2,
            "strokeDash": [1.5, 1.5],
            "opacity": 1,
            "fillOpacity": 1
          }
        },
        {
          "mark": {
            "type": "text",
            "lineBreak": "\n",
            "lineHeight": 23,
            "fontSize": 16,
            "fontWeight": "bold",
            "font": "Liberation Sans",
            "color": "#222222",
            "align": "center",
            "baseline": "middle",
            "dy": -9
          },
          "encoding": {"text": {"field": "t", "type": "nominal"}}
        }
      ]
    },
    {
      "data": {
        "format": {"parse": {"d": "date:'%Y-%m-%d'"}},
        "values": [
          {"d": "2019-10-31", "v": 60.23, "s": "BRENT"},
          {"d": "2019-10-31", "v": 54.18, "s": "WTI"},
          {"d": "2019-10-31", "v": 48.08, "s": "Mezcla Mexicana"}
        ]
      },
      "mark": {"type": "text", "align": "left", "baseline": "middle", "dx": 5, "fontSize": 19, "font": "Liberation Sans"},
      "encoding": {
        "x": {"field": "d", "type": "temporal"},
        "y": {"field": "v", "type": "quantitative"},
        "text": {"field": "v", "type": "quantitative", "format": ".2f"},
        "color": {
          "condition": [
            {"test": "datum.s === 'BRENT'", "value": "#3a9e47"},
            {"test": "datum.s === 'WTI'", "value": "#e8232c"}
          ],
          "value": "#222222"
        }
      }
    }
  ]
}
